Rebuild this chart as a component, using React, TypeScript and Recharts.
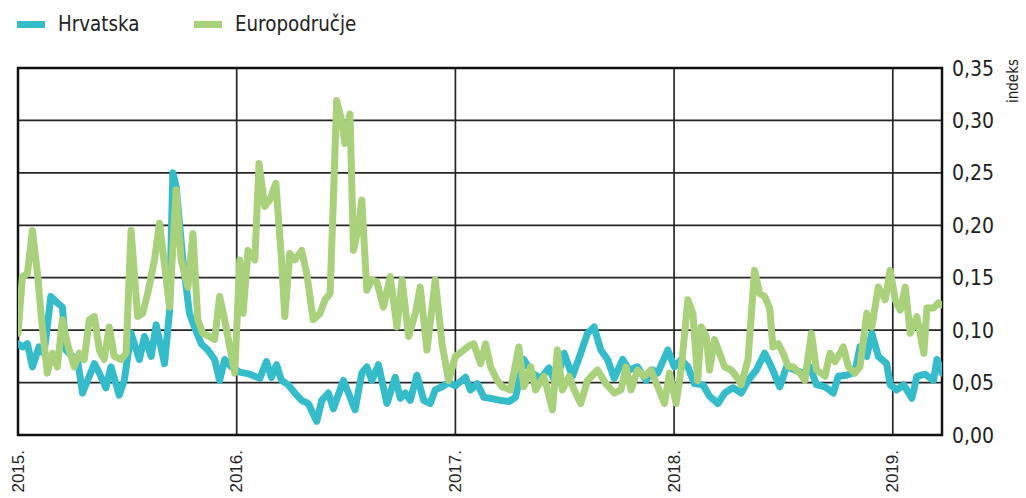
import {
  LineChart,
  Line,
  XAxis,
  YAxis,
  CartesianGrid,
  ReferenceArea,
} from "recharts";

const START_YEAR = 2015;
const END_YEAR = 2019.225;
const yearTicks = [2015, 2016, 2017, 2018, 2019];
const valueTicks = [0, 0.05, 0.1, 0.15, 0.2, 0.25, 0.3, 0.35];

// vrijeme u godinama od početka 2015.
const hrTime = [
  0, 0.02, 0.043, 0.066, 0.096, 0.119, 0.15, 0.18, 0.203, 0.219, 0.249, 0.272, 0.295, 0.318,
  0.349, 0.372, 0.402, 0.425, 0.463, 0.486, 0.517, 0.555, 0.578, 0.609, 0.632, 0.67, 0.693,
  0.708, 0.723, 0.754, 0.784, 0.807, 0.838, 0.868, 0.899, 0.922, 0.945, 0.976, 1.014, 1.06,
  1.106, 1.136, 1.159, 1.182, 1.205, 1.235, 1.266, 1.297, 1.327, 1.366, 1.389, 1.419, 1.442,
  1.488, 1.511, 1.541, 1.572, 1.595, 1.618, 1.648, 1.687, 1.725, 1.748, 1.771, 1.794, 1.824,
  1.855, 1.885, 1.908, 1.939, 1.969, 2.0, 2.046, 2.069, 2.1, 2.13, 2.161, 2.206, 2.245, 2.275,
  2.313, 2.352, 2.39, 2.428, 2.459, 2.497, 2.535, 2.573, 2.604, 2.634, 2.665, 2.696, 2.726,
  2.765, 2.795, 2.833, 2.872, 2.902, 2.925, 2.971, 3.001, 3.032, 3.063, 3.093, 3.132, 3.162,
  3.2, 3.231, 3.269, 3.307, 3.338, 3.376, 3.414, 3.445, 3.483, 3.514, 3.552, 3.59, 3.621,
  3.651, 3.69, 3.728, 3.751, 3.789, 3.827, 3.85, 3.881, 3.904, 3.934, 3.972, 3.988, 4.018,
  4.049, 4.087, 4.11, 4.148, 4.186, 4.202, 4.225,
];
const hrValue = [
  0.087, 0.084, 0.087, 0.065, 0.084, 0.078, 0.132, 0.126, 0.122, 0.081, 0.075, 0.072, 0.04, 0.052,
  0.068, 0.059, 0.045, 0.065, 0.038, 0.052, 0.097, 0.072, 0.094, 0.075, 0.105, 0.068, 0.118,
  0.25, 0.237, 0.167, 0.116, 0.103, 0.087, 0.081, 0.072, 0.052, 0.072, 0.065, 0.06, 0.058,
  0.054, 0.07, 0.055, 0.067, 0.052, 0.048, 0.04, 0.033, 0.03, 0.013, 0.033, 0.04, 0.025,
  0.052, 0.04, 0.024, 0.059, 0.065, 0.052, 0.067, 0.03, 0.055, 0.035, 0.04, 0.033, 0.057,
  0.033, 0.03, 0.043, 0.046, 0.05, 0.047, 0.055, 0.043, 0.049, 0.036, 0.035, 0.033, 0.032, 0.036,
  0.072, 0.059, 0.054, 0.064, 0.049, 0.078, 0.056, 0.078, 0.097, 0.103, 0.081, 0.072, 0.054,
  0.072, 0.062, 0.065, 0.052, 0.062, 0.059, 0.081, 0.065, 0.072, 0.065, 0.049, 0.048, 0.037,
  0.03, 0.04, 0.045, 0.04, 0.052, 0.062, 0.078, 0.065, 0.046, 0.065, 0.062, 0.059, 0.065,
  0.048, 0.046, 0.04, 0.056, 0.057, 0.06, 0.084, 0.075, 0.097, 0.075, 0.068, 0.048, 0.043,
  0.048, 0.035, 0.056, 0.058, 0.052, 0.072, 0.059,
];

const euTime = [
  0, 0.02, 0.043, 0.066, 0.089, 0.111, 0.134, 0.157, 0.18, 0.203, 0.226, 0.257, 0.28, 0.303,
  0.326, 0.349, 0.372, 0.394, 0.417, 0.44, 0.471, 0.494, 0.517, 0.547, 0.57, 0.593, 0.624,
  0.647, 0.67, 0.693, 0.723, 0.746, 0.777, 0.8, 0.822, 0.845, 0.876, 0.899, 0.922, 0.945,
  0.968, 0.991, 1.014, 1.029, 1.052, 1.083, 1.102, 1.128, 1.151, 1.179, 1.205, 1.22, 1.243,
  1.266, 1.297, 1.32, 1.35, 1.381, 1.404, 1.427, 1.442, 1.457, 1.48, 1.495, 1.518, 1.534,
  1.557, 1.572, 1.595, 1.618, 1.641, 1.671, 1.702, 1.733, 1.756, 1.786, 1.817, 1.839, 1.87,
  1.908, 1.939, 1.969, 2.0, 2.038, 2.061, 2.084, 2.115, 2.138, 2.161, 2.191, 2.214, 2.252,
  2.29, 2.313, 2.344, 2.367, 2.405, 2.444, 2.466, 2.489, 2.52, 2.543, 2.573, 2.604, 2.65,
  2.688, 2.726, 2.757, 2.78, 2.803, 2.833, 2.864, 2.894, 2.925, 2.956, 2.979, 3.009, 3.032,
  3.063, 3.086, 3.108, 3.124, 3.147, 3.162, 3.185, 3.208, 3.231, 3.261, 3.284, 3.307, 3.338,
  3.368, 3.391, 3.414, 3.437, 3.452, 3.476, 3.498, 3.522, 3.544, 3.575, 3.598, 3.628, 3.651,
  3.69, 3.713, 3.736, 3.774, 3.797, 3.827, 3.85, 3.881, 3.904, 3.934, 3.965, 3.988, 4.011,
  4.034, 4.057, 4.08, 4.11, 4.142, 4.156, 4.186, 4.209, 4.225,
];
const euValue = [
  0.097, 0.151, 0.154, 0.195, 0.154, 0.103, 0.059, 0.078, 0.065, 0.11, 0.087, 0.065, 0.078, 0.072,
  0.11, 0.113, 0.081, 0.072, 0.103, 0.075, 0.072, 0.078, 0.195, 0.113, 0.116, 0.135, 0.167,
  0.202, 0.162, 0.122, 0.234, 0.167, 0.141, 0.192, 0.11, 0.097, 0.094, 0.091, 0.132, 0.11,
  0.084, 0.059, 0.167, 0.116, 0.176, 0.167, 0.259, 0.218, 0.224, 0.24, 0.167, 0.113, 0.173,
  0.167, 0.176, 0.154, 0.11, 0.116, 0.129, 0.135, 0.224, 0.319, 0.3, 0.278, 0.306, 0.176,
  0.199, 0.224, 0.138, 0.148, 0.146, 0.122, 0.151, 0.103, 0.148, 0.094, 0.116, 0.141, 0.081,
  0.148, 0.087, 0.052, 0.075, 0.081, 0.085, 0.087, 0.068, 0.087, 0.065, 0.052, 0.046, 0.043,
  0.084, 0.046, 0.065, 0.043, 0.056, 0.024, 0.081, 0.043, 0.056, 0.043, 0.03, 0.052, 0.062,
  0.049, 0.04, 0.043, 0.065, 0.043, 0.062, 0.056, 0.062, 0.046, 0.03, 0.059, 0.03, 0.062,
  0.129, 0.116, 0.052, 0.103, 0.094, 0.062, 0.091, 0.078, 0.065, 0.062, 0.056, 0.048, 0.072,
  0.157, 0.135, 0.132, 0.121, 0.084, 0.087, 0.078, 0.065, 0.065, 0.059, 0.052, 0.097, 0.062,
  0.056, 0.078, 0.07, 0.084, 0.065, 0.059, 0.065, 0.116, 0.103, 0.141, 0.129, 0.157, 0.129,
  0.119, 0.141, 0.097, 0.113, 0.078, 0.121, 0.121, 0.126, 0.124,
];

const HR_COLOR = "#35bccb";
const EU_COLOR = "#a9d07b";
const NARROW = '"DejaVu Sans", sans-serif';

const hrData = hrTime.map((t, i) => ({ t: START_YEAR + t, v: hrValue[i] }));
const euData = euTime.map((t, i) => ({ t: START_YEAR + t, v: euValue[i] }));

function YearTick(props: any) {
  const { x, y, payload } = props;
  const ty = y + 15;
  return (
    <text
      x={x}
      y={ty}
      transform={`rotate(-90, ${x}, ${ty})`}
      textAnchor="end"
      dominantBaseline="central"
      fontSize={17}
      fontFamily='"Liberation Sans", Arial, sans-serif'
      fill="#222"
    >
      {`${payload.value}.`}
    </text>
  );
}

// uski font: DejaVu stisnut po širini
function ValueTick(props: any) {
  const { x, y, payload } = props;
  const label = Number(payload.value).toFixed(2).replace(".", ",");
  return (
    <text
      transform={`translate(${x}, ${y}) scale(0.86, 1)`}
      x={0}
      y={0}
      textAnchor="start"
      dominantBaseline="central"
      fontSize={22}
      fontFamily={NARROW}
      fill="#222"
    >
      {label}
    </text>
  );
}

function LegendItem({ color, label, left }: { color: string; label: string; left: number }) {
  return (
    <div style={{ position: "absolute", left, top: 11, height: 26, display: "flex", alignItems: "center" }}>
      <span style={{ width: 28, height: 7, background: color, display: "inline-block", marginRight: 13 }} />
      <span
        style={{
          fontFamily: NARROW,
          fontSize: 21,
          color: "#222",
          display: "inline-block",
          transform: "scaleX(0.87)",
          transformOrigin: "left center",
          whiteSpace: "nowrap",
        }}
      >
        {label}
      </span>
    </div>
  );
}

export default function App() {
  return (
    <div style={{ position: "absolute", left: 0, top: 0, width: 1026, height: 498, background: "#fff" }}>
      <LegendItem color={HR_COLOR} label="Hrvatska" left={17} />
      <LegendItem color={EU_COLOR} label="Europodručje" left={194} />
      <div
        style={{
          position: "absolute",
          left: 1013,
          top: 81,
          transform: "translate(-50%, -50%) rotate(-90deg) scaleX(0.9)",
          fontFamily: NARROW,
          fontSize: 15,
          color: "#222",
          whiteSpace: "nowrap",
        }}
      >
        indeks
      </div>
      <LineChart width={1026} height={498} margin={{ top: 68, left: 18, right: 24, bottom: 8 }}>
        <CartesianGrid stroke="#262626" strokeWidth={1.7} />
        <XAxis
          type="number"
          dataKey="t"
          domain={[START_YEAR, END_YEAR]}
          ticks={yearTicks}
          allowDataOverflow
          height={55}
          axisLine={false}
          tickLine={false}
          tickSize={0}
          tickMargin={0}
          tick={<YearTick />}
        />
        <YAxis
          orientation="right"
          type="number"
          domain={[0, 0.35]}
          ticks={valueTicks}
          width={60}
          axisLine={false}
          tickLine={false}
          tickSize={0}
          tickMargin={10}
          tick={<ValueTick />}
        />
        <ReferenceArea
          x1={START_YEAR}
          x2={END_YEAR}
          y1={0}
          y2={0.35}
          fill="none"
          stroke="#111"
          strokeWidth={2.5}
          ifOverflow="visible"
        />
        <Line
          data={hrData}
          dataKey="v"
          type="linear"
          stroke={HR_COLOR}
          strokeWidth={7}
          strokeLinejoin="round"
          strokeLinecap="round"
          dot={false}
          isAnimationActive={false}
        />
        <Line
          data={euData}
          dataKey="v"
          type="linear"
          stroke={EU_COLOR}
          strokeWidth={7}
          strokeLinejoin="round"
          strokeLinecap="round"
          dot={false}
          isAnimationActive={false}
        />
      </LineChart>
    </div>
  );
}
